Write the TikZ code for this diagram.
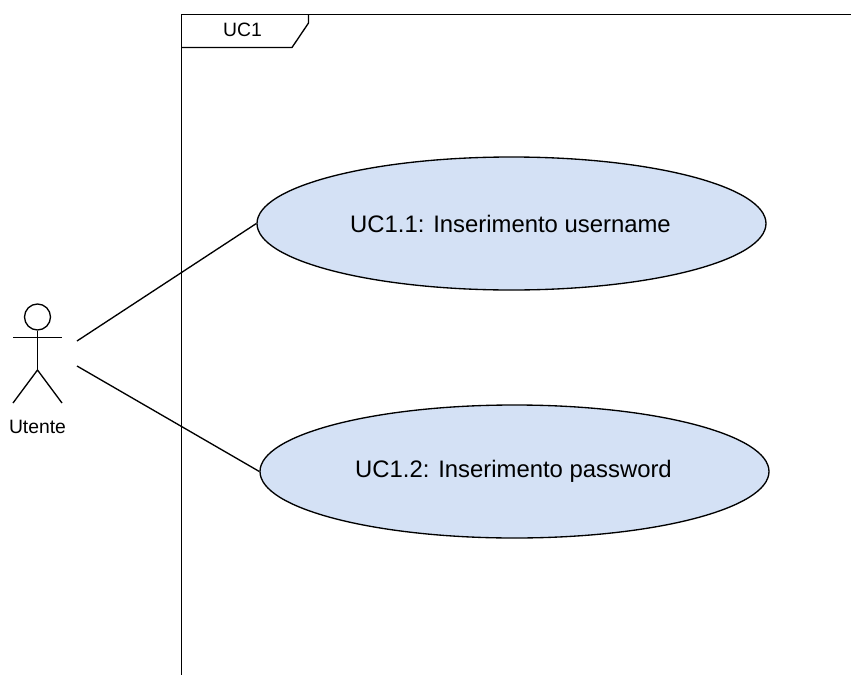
\documentclass[tikz,border=0pt]{standalone}
\usepackage{fontspec}
\setmainfont{Liberation Sans}
\usetikzlibrary{shapes.geometric}
\definecolor{ucfill}{HTML}{D4E1F5}
\tikzset{
  ln/.style={draw=black,line width=1pt},
  usecase/.style={ellipse,ln,fill=ucfill,inner sep=0pt,minimum width=381.75pt,minimum height=99.75pt,font=\fontsize{17.9pt}{21pt}\selectfont},
  small/.style={inner sep=0pt,font=\fontsize{14.5pt}{17pt}\selectfont}
}
\newcommand{\nudged}[1]{\raisebox{-0.6pt}{\kern-1.5pt #1}}
\begin{document}
\begin{tikzpicture}[x=0.75pt,y=-0.75pt]
\useasboundingbox (0,0) rectangle (851,675);
% frame
\coordinate (ftr) at (851,14.5);
\coordinate (ftl) at (181.5,14.5);
\coordinate (fbl) at (181.5,675);
\coordinate (t1) at (308.5,14.5);
\coordinate (t2) at (308.5,23);
\coordinate (t3) at (292,47.5);
\coordinate (t4) at (181.5,47.5);
\draw[ln] (ftr) -- (ftl) -- (fbl);
\draw[ln] (t1) -- (t2) -- (t3) -- (t4);
\node[small] (frametitle) at (242.5,30) {UC1};
% actor
\node[circle,ln,minimum size=19.5pt,inner sep=0pt] (head) at (37.5,317) {};
\coordinate (hip) at (37.5,370);
\coordinate (armL) at (13,337.5);
\coordinate (armR) at (62,337.5);
\coordinate (footL) at (13,403);
\coordinate (footR) at (62,403);
\draw[ln] (head.south) -- (hip);
\draw[ln] (armL) -- (armR);
\draw[ln] (footL) -- (hip) -- (footR);
\node[small] (actorlabel) at (37.5,427) {Utente};
% use cases
\coordinate (a1) at (77,341);
\coordinate (a2) at (77,366);
\node[usecase] (uc1) at (511.5,223.5) {\nudged{UC1.1: Inserimento username}};
\node[usecase] (uc2) at (514.5,471.5) {\nudged{UC1.2: Inserimento password}};
\draw[ln] (a1) -- (uc1.west);
\draw[ln] (a2) -- (uc2.west);
\end{tikzpicture}
\end{document}
